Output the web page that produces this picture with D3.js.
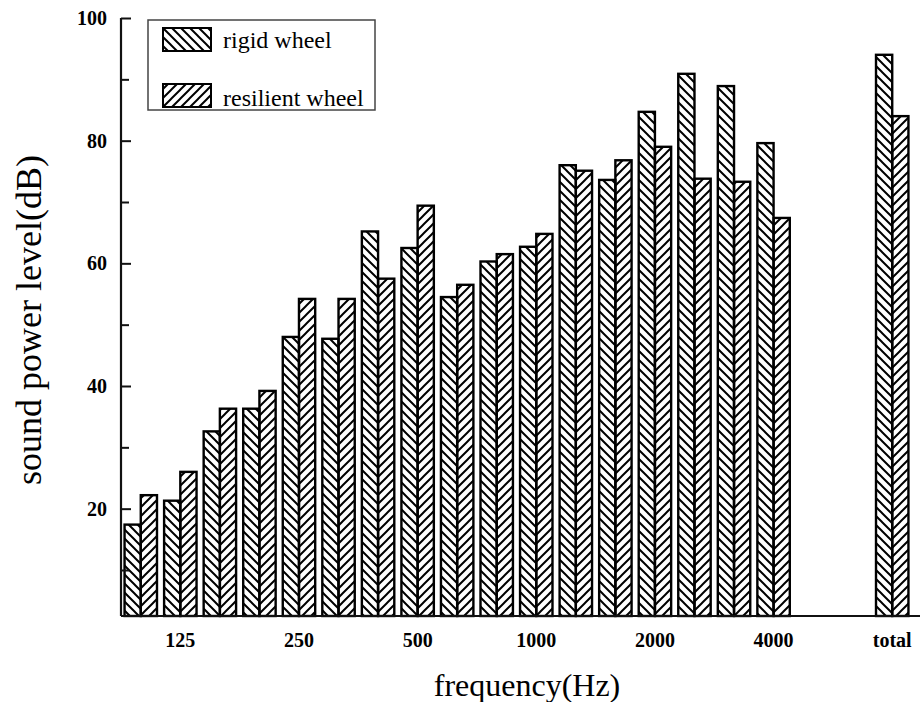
<!DOCTYPE html>
<html>
<head>
<meta charset="utf-8">
<script src="https://cdn.jsdelivr.net/npm/d3@7"></script>
<style>
    body { margin: 0; background: #fff; }
    svg { display: block; font-family: "Liberation Serif", "Times New Roman", serif; }
    .tick-label { font-size: 20px; font-weight: bold; }
    .x-title { font-size: 32px; }
    .y-title { font-size: 36px; }
    .legend-label { font-size: 24px; }
</style>
</head>
<body>
<div class="wrapper-svg"></div>
<script>
// 1/3 octave bands, then the overall level
var bands = ['100', '125', '160', '200', '250', '315', '400', '500', '630', '800',
             '1000', '1250', '1600', '2000', '2500', '3150', '4000', 'total'];
// slot of each band on the x axis (two empty slots before total)
var slots = [0, 1, 2, 3, 4, 5, 6, 7, 8, 9, 10, 11, 12, 13, 14, 15, 16, 19];
var rigid = [17.4, 21.3, 32.6, 36.3, 48.0, 47.7, 65.2, 62.5, 54.5, 60.3,
             62.7, 76.0, 73.6, 84.7, 90.9, 88.9, 79.6, 94.0];
var resilient = [22.2, 26.0, 36.3, 39.2, 54.2, 54.2, 57.5, 69.4, 56.5, 61.5,
                 64.8, 75.1, 76.8, 79.0, 73.8, 73.3, 67.4, 84.0];
var xTickLabels = ['125', '250', '500', '1000', '2000', '4000', 'total'];
var yTicks = [20, 40, 60, 80, 100];
var yMinorTicks = [10, 30, 50, 70, 90];
var seriesNames = ['rigid wheel', 'resilient wheel'];

class soundChart {
    constructor() {
        this.width = 920;
        this.height = 702;
        this.x = d3.scaleBand()
            .domain(d3.range(20))
            .range([121, 912])
            .paddingInner(0.18)
            .paddingOuter(0.09);
        this.y = d3.scaleLinear()
            .domain([2.5, 100])
            .range([616, 18]);
    }

    build() {
        this.svg = d3.select('.wrapper-svg')
            .append('svg')
            .attr('width', this.width)
            .attr('height', this.height);

        this.patterns();
        this.bars();
        this.axes();
        this.legend();
    }

    patterns() {
        var defs = this.svg.append('defs');
        var s = 9;

        defs.append('pattern')
            .attr('id', 'hatchBack')
            .attr('patternUnits', 'userSpaceOnUse')
            .attr('width', s)
            .attr('height', s)
            .append('path')
            .attr('d', 'M0,0 L'+s+','+s+' M-3,'+(s-3)+' L3,'+(s+3)+' M'+(s-3)+',-3 L'+(s+3)+',3')
            .attr('stroke', '#000')
            .attr('stroke-width', 2);

        defs.append('pattern')
            .attr('id', 'hatchFwd')
            .attr('patternUnits', 'userSpaceOnUse')
            .attr('width', s)
            .attr('height', s)
            .append('path')
            .attr('d', 'M0,'+s+' L'+s+',0 M-3,3 L3,-3 M'+(s-3)+','+(s+3)+' L'+(s+3)+','+(s-3))
            .attr('stroke', '#000')
            .attr('stroke-width', 2);
    }

    bars() {
        var x = this.x, y = this.y;
        var half = x.bandwidth() / 2;

        this.svg.append('g').selectAll('rect')
            .data(rigid)
            .join('rect')
            .attr('x', (d, i) => x(slots[i]))
            .attr('y', d => y(d))
            .attr('width', half)
            .attr('height', d => y.range()[0] - y(d))
            .attr('fill', 'url(#hatchBack)')
            .attr('stroke', '#000')
            .attr('stroke-width', 2.4);

        this.svg.append('g').selectAll('rect')
            .data(resilient)
            .join('rect')
            .attr('x', (d, i) => x(slots[i]) + half)
            .attr('y', d => y(d))
            .attr('width', half)
            .attr('height', d => y.range()[0] - y(d))
            .attr('fill', 'url(#hatchFwd)')
            .attr('stroke', '#000')
            .attr('stroke-width', 2.4);
    }

    axes() {
        var x = this.x, y = this.y;
        var x0 = 121;

        // y axis, ticks pointing inward
        var yAxis = this.svg.append('g')
            .attr('transform', 'translate('+x0+',0)')
            .call(d3.axisRight(y).tickValues(yTicks).tickSize(10).tickFormat(''));
        yAxis.select('.domain').remove();
        yAxis.selectAll('line').attr('stroke', '#111').attr('stroke-width', 2);

        var yMinor = this.svg.append('g')
            .attr('transform', 'translate('+x0+',0)')
            .call(d3.axisRight(y).tickValues(yMinorTicks.filter(d => d > y.domain()[0])).tickSize(8).tickFormat(''));
        yMinor.select('.domain').remove();
        yMinor.selectAll('line').attr('stroke', '#111').attr('stroke-width', 2);

        this.svg.append('line')
            .attr('x1', x0).attr('x2', x0)
            .attr('y1', y.range()[1]).attr('y2', y.range()[0])
            .attr('stroke', '#111')
            .attr('stroke-width', 2.2);

        this.svg.selectAll('.y-label')
            .data(yTicks)
            .join('text')
            .classed('tick-label', true)
            .attr('x', 107)
            .attr('y', d => y(d) + 7)
            .attr('text-anchor', 'end')
            .text(d => d);

        // x axis
        this.svg.append('line')
            .attr('x1', x0).attr('x2', this.width)
            .attr('y1', y.range()[0]).attr('y2', y.range()[0])
            .attr('stroke', '#111')
            .attr('stroke-width', 2.2);

        this.svg.selectAll('.x-label')
            .data(xTickLabels)
            .join('text')
            .classed('tick-label', true)
            .attr('x', d => x(slots[bands.indexOf(d)]) + x.bandwidth() / 2)
            .attr('y', 647)
            .attr('text-anchor', 'middle')
            .text(d => d);

        this.svg.append('text')
            .classed('x-title', true)
            .attr('x', 527)
            .attr('y', 696)
            .attr('text-anchor', 'middle')
            .text('frequency(Hz)');

        this.svg.append('text')
            .classed('y-title', true)
            .attr('transform', 'translate(41,320) rotate(-90)')
            .attr('text-anchor', 'middle')
            .text('sound power level(dB)');
    }

    legend() {
        var g = this.svg.append('g');

        g.append('rect')
            .attr('x', 148)
            .attr('y', 20)
            .attr('width', 227)
            .attr('height', 90)
            .attr('fill', '#fff')
            .attr('stroke', '#444')
            .attr('stroke-width', 1.5);

        var fills = ['url(#hatchBack)', 'url(#hatchFwd)'];
        var rows = [28, 84];
        var baselines = [48, 106];

        g.selectAll('.swatch')
            .data(seriesNames)
            .join('rect')
            .attr('x', 163)
            .attr('y', (d, i) => rows[i])
            .attr('width', 48)
            .attr('height', 23)
            .attr('fill', (d, i) => fills[i])
            .attr('stroke', '#000')
            .attr('stroke-width', 2);

        g.selectAll('.legend-label')
            .data(seriesNames)
            .join('text')
            .classed('legend-label', true)
            .attr('x', 223)
            .attr('y', (d, i) => baselines[i])
            .text(d => d);
    }
}

var chart = new soundChart();
chart.build();
</script>
</body>
</html>
